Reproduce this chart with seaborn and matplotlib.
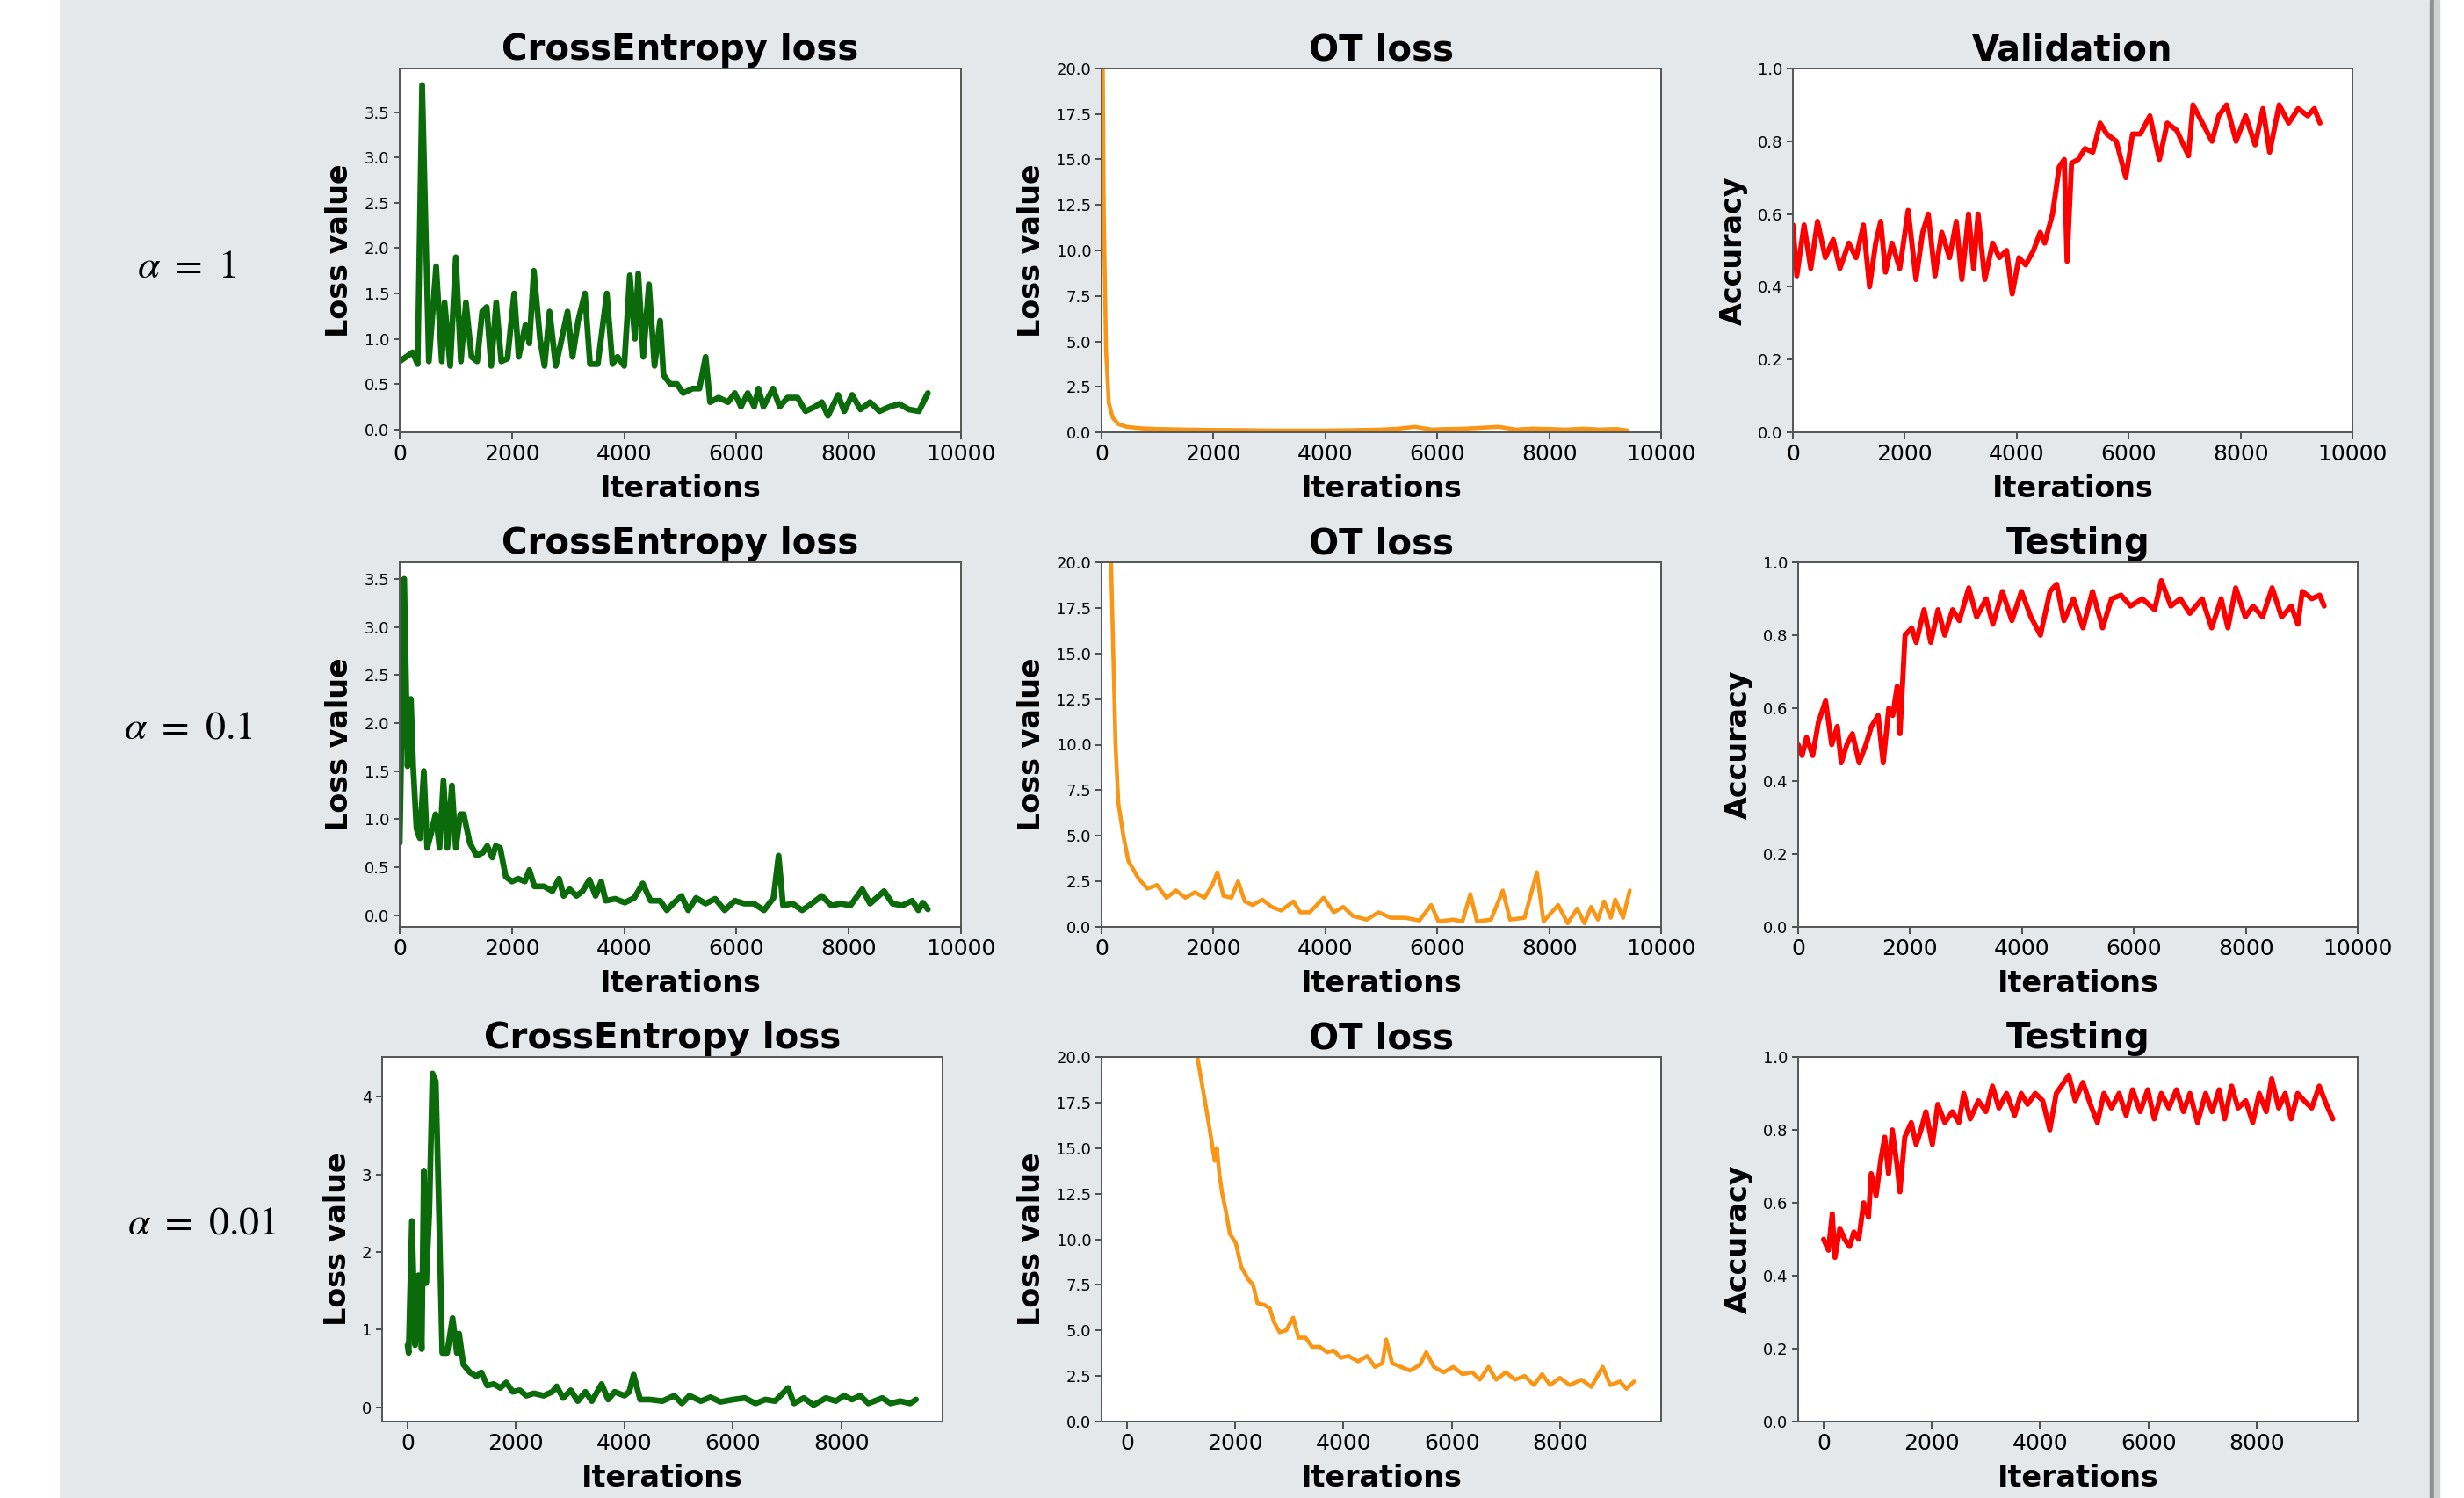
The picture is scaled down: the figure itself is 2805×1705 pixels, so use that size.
import numpy as np
import pandas as pd
import matplotlib
matplotlib.use('Agg')
import matplotlib.pyplot as plt
import seaborn as sns
from matplotlib.patches import Rectangle

sns.set_theme(style='ticks')
plt.rcParams['font.family'] = ['DejaVu Sans']
plt.rcParams['mathtext.fontset'] = 'stix'
plt.rcParams['text.color'] = 'black'
plt.rcParams['axes.labelcolor'] = 'black'
plt.rcParams['xtick.color'] = 'black'
plt.rcParams['ytick.color'] = 'black'

# (iteration, value) pairs, one list per panel
ce_1 = [(0, 0.75), (115, 0.8), (230, 0.85), (320, 0.72), (400, 3.8), (520, 0.75), (650, 1.8),
        (750, 0.75), (800, 1.4), (900, 0.7), (1000, 1.9), (1090, 0.75), (1180, 1.4), (1280, 0.8),
        (1380, 0.75), (1470, 1.3), (1550, 1.35), (1630, 0.7), (1720, 1.4), (1810, 0.75), (1920, 0.78),
        (2040, 1.5), (2120, 0.8), (2240, 1.15), (2310, 0.95), (2390, 1.75), (2500, 1.0), (2580, 0.7),
        (2670, 1.3), (2780, 0.7), (2870, 0.95), (2990, 1.3), (3080, 0.8), (3180, 1.2), (3300, 1.5),
        (3390, 0.72), (3530, 0.72), (3690, 1.5), (3790, 0.72), (3880, 0.8), (4000, 0.7), (4100, 1.7),
        (4190, 1.0), (4250, 1.72), (4340, 0.8), (4440, 1.6), (4540, 0.7), (4640, 1.2), (4700, 0.6),
        (4820, 0.5), (4940, 0.5), (5050, 0.4), (5220, 0.45), (5340, 0.45), (5450, 0.8), (5530, 0.3),
        (5680, 0.35), (5850, 0.3), (5970, 0.4), (6080, 0.25), (6200, 0.4), (6315, 0.25), (6390, 0.45),
        (6480, 0.25), (6650, 0.45), (6770, 0.25), (6910, 0.35), (7090, 0.35), (7230, 0.2), (7400, 0.25),
        (7520, 0.3), (7630, 0.15), (7810, 0.38), (7920, 0.2), (8060, 0.38), (8210, 0.22), (8380, 0.3),
        (8550, 0.2), (8730, 0.25), (8900, 0.28), (9070, 0.22), (9250, 0.2), (9410, 0.4)]
ot_1 = [(0, 30), (40, 12), (80, 4.5), (130, 1.6), (200, 0.8), (300, 0.45), (450, 0.3), (700, 0.22),
        (1000, 0.18), (1500, 0.15), (2000, 0.13), (2500, 0.12), (3000, 0.1), (3500, 0.1), (4000, 0.1),
        (4500, 0.12), (5000, 0.15), (5300, 0.2), (5600, 0.3), (5900, 0.15), (6200, 0.18), (6500, 0.2),
        (6800, 0.25), (7100, 0.3), (7400, 0.15), (7700, 0.2), (8000, 0.18), (8300, 0.15), (8600, 0.2),
        (8900, 0.15), (9200, 0.18), (9400, 0.1)]
val_1 = [(0, 0.57), (70, 0.43), (200, 0.57), (320, 0.45), (440, 0.58), (580, 0.48), (720, 0.53),
         (840, 0.45), (1000, 0.52), (1130, 0.48), (1260, 0.57), (1370, 0.4), (1480, 0.52), (1570, 0.58),
         (1655, 0.44), (1770, 0.52), (1910, 0.45), (2060, 0.61), (2200, 0.42), (2320, 0.55), (2420, 0.6),
         (2540, 0.43), (2660, 0.55), (2800, 0.48), (2920, 0.58), (3020, 0.42), (3140, 0.6), (3230, 0.45),
         (3310, 0.6), (3430, 0.42), (3570, 0.52), (3690, 0.48), (3820, 0.5), (3920, 0.38), (4040, 0.48),
         (4160, 0.46), (4300, 0.5), (4420, 0.55), (4500, 0.52), (4640, 0.6), (4760, 0.73), (4850, 0.75),
         (4900, 0.47), (4980, 0.74), (5100, 0.75), (5220, 0.78), (5360, 0.77), (5490, 0.85), (5610, 0.82),
         (5780, 0.8), (5950, 0.7), (6070, 0.82), (6210, 0.82), (6380, 0.87), (6550, 0.75), (6690, 0.85),
         (6860, 0.83), (7070, 0.76), (7150, 0.9), (7320, 0.85), (7490, 0.8), (7610, 0.87), (7750, 0.9),
         (7920, 0.8), (8090, 0.87), (8260, 0.79), (8400, 0.89), (8520, 0.77), (8690, 0.9), (8860, 0.85),
         (9030, 0.89), (9200, 0.87), (9320, 0.89), (9420, 0.85)]

ce_2 = [(0, 0.75), (80, 3.5), (140, 1.55), (200, 2.25), (240, 1.55), (300, 0.9), (360, 0.8), (430, 1.5),
        (490, 0.7), (560, 0.85), (640, 1.05), (710, 0.7), (780, 1.4), (850, 0.7), (930, 1.35), (1000, 0.7),
        (1080, 1.05), (1140, 1.05), (1250, 0.75), (1370, 0.62), (1480, 0.65), (1560, 0.72), (1650, 0.6),
        (1710, 0.72), (1790, 0.7), (1890, 0.4), (2000, 0.35), (2110, 0.38), (2230, 0.35), (2310, 0.47),
        (2400, 0.3), (2570, 0.3), (2720, 0.25), (2840, 0.38), (2920, 0.2), (3030, 0.27), (3150, 0.2),
        (3260, 0.25), (3380, 0.37), (3490, 0.2), (3590, 0.35), (3670, 0.15), (3840, 0.17), (4010, 0.13),
        (4180, 0.18), (4330, 0.33), (4470, 0.15), (4640, 0.15), (4760, 0.05), (4870, 0.12), (5020, 0.2),
        (5140, 0.05), (5280, 0.18), (5450, 0.12), (5620, 0.17), (5790, 0.05), (5970, 0.15), (6140, 0.12),
        (6310, 0.12), (6490, 0.05), (6660, 0.18), (6750, 0.62), (6830, 0.1), (7000, 0.12), (7170, 0.05),
        (7340, 0.12), (7520, 0.2), (7690, 0.1), (7860, 0.12), (8030, 0.1), (8240, 0.27), (8380, 0.12),
        (8630, 0.25), (8780, 0.12), (8950, 0.1), (9130, 0.15), (9240, 0.05), (9320, 0.13), (9410, 0.06)]
ot_2 = [(0, 60), (170, 20), (250, 10), (300, 6.8), (390, 5.0), (480, 3.6), (560, 3.2), (650, 2.7),
        (820, 2.1), (990, 2.3), (1160, 1.6), (1330, 2.0), (1500, 1.6), (1670, 1.9), (1840, 1.6),
        (1980, 2.3), (2070, 3.0), (2180, 1.7), (2320, 1.6), (2440, 2.5), (2560, 1.4), (2700, 1.2),
        (2870, 1.5), (3040, 1.1), (3210, 0.9), (3430, 1.4), (3550, 0.8), (3720, 0.8), (3970, 1.6),
        (4150, 0.8), (4320, 1.1), (4490, 0.6), (4740, 0.4), (4950, 0.8), (5170, 0.5), (5430, 0.5),
        (5680, 0.35), (5890, 1.2), (6020, 0.3), (6280, 0.4), (6450, 0.3), (6590, 1.8), (6710, 0.3),
        (6960, 0.4), (7170, 2.0), (7300, 0.4), (7560, 0.5), (7780, 3.0), (7900, 0.3), (8160, 1.2),
        (8330, 0.2), (8500, 1.0), (8630, 0.2), (8750, 1.1), (8870, 0.4), (8980, 1.4), (9100, 0.5),
        (9180, 1.5), (9320, 0.5), (9440, 2.0)]
test_2 = [(0, 0.5), (70, 0.47), (150, 0.52), (260, 0.47), (360, 0.56), (490, 0.62), (600, 0.5),
          (700, 0.55), (770, 0.45), (870, 0.5), (970, 0.53), (1090, 0.45), (1210, 0.5), (1310, 0.55),
          (1430, 0.58), (1520, 0.45), (1620, 0.6), (1690, 0.58), (1770, 0.66), (1820, 0.53), (1910, 0.8),
          (2030, 0.82), (2110, 0.78), (2250, 0.87), (2370, 0.78), (2500, 0.87), (2620, 0.8), (2760, 0.87),
          (2880, 0.84), (3050, 0.93), (3190, 0.85), (3360, 0.9), (3480, 0.83), (3650, 0.92), (3820, 0.84),
          (3990, 0.92), (4160, 0.85), (4330, 0.8), (4500, 0.92), (4620, 0.94), (4750, 0.84), (4920, 0.9),
          (5090, 0.82), (5260, 0.92), (5440, 0.82), (5600, 0.9), (5770, 0.91), (5940, 0.88), (6150, 0.9),
          (6370, 0.87), (6490, 0.95), (6660, 0.88), (6830, 0.9), (7000, 0.86), (7220, 0.9), (7390, 0.82),
          (7560, 0.9), (7680, 0.82), (7820, 0.93), (7990, 0.85), (8130, 0.88), (8300, 0.85), (8470, 0.93),
          (8640, 0.85), (8810, 0.88), (8930, 0.83), (9010, 0.92), (9180, 0.9), (9320, 0.91), (9400, 0.88)]

ce_3 = [(0, 0.8), (20, 0.7), (80, 2.4), (140, 0.8), (200, 1.7), (260, 0.75), (300, 3.05), (340, 1.6),
        (400, 2.5), (460, 4.3), (520, 4.2), (580, 2.5), (640, 0.7), (730, 0.7), (830, 1.15), (910, 0.7),
        (950, 0.95), (1030, 0.55), (1150, 0.45), (1270, 0.4), (1360, 0.45), (1470, 0.28), (1590, 0.3),
        (1710, 0.25), (1820, 0.32), (1940, 0.2), (2070, 0.22), (2190, 0.15), (2330, 0.18), (2510, 0.15),
        (2670, 0.2), (2750, 0.27), (2870, 0.12), (3010, 0.22), (3140, 0.08), (3280, 0.2), (3400, 0.08),
        (3580, 0.3), (3700, 0.1), (3820, 0.2), (4000, 0.15), (4090, 0.2), (4170, 0.42), (4290, 0.1),
        (4470, 0.1), (4700, 0.08), (4920, 0.15), (5060, 0.05), (5200, 0.15), (5410, 0.08), (5590, 0.13),
        (5770, 0.07), (6010, 0.1), (6220, 0.12), (6420, 0.05), (6600, 0.1), (6780, 0.08), (7020, 0.25),
        (7130, 0.05), (7310, 0.12), (7490, 0.03), (7720, 0.12), (7900, 0.08), (8050, 0.15), (8200, 0.1),
        (8350, 0.15), (8500, 0.05), (8760, 0.12), (8910, 0.05), (9090, 0.08), (9270, 0.05), (9380, 0.1)]
ot_3 = [(1100, 24), (1300, 20), (1445, 17.5), (1530, 16), (1620, 14.3), (1660, 15), (1710, 13.5),
        (1760, 12.5), (1830, 11.5), (1900, 10.3), (2010, 9.8), (2110, 8.5), (2240, 7.8), (2330, 7.5),
        (2410, 6.5), (2540, 6.4), (2640, 6.2), (2710, 5.5), (2820, 4.9), (2940, 5.0), (3070, 5.7),
        (3170, 4.6), (3300, 4.6), (3420, 4.1), (3560, 4.1), (3700, 3.8), (3820, 3.9), (3950, 3.5),
        (4090, 3.6), (4270, 3.3), (4440, 3.6), (4580, 3.0), (4720, 3.2), (4790, 4.5), (4900, 3.2),
        (5060, 3.0), (5230, 2.8), (5410, 3.1), (5530, 3.8), (5670, 3.0), (5850, 2.7), (6030, 3.0),
        (6200, 2.6), (6380, 2.7), (6520, 2.3), (6680, 3.0), (6820, 2.3), (7000, 2.7), (7170, 2.3),
        (7350, 2.5), (7520, 2.0), (7670, 2.6), (7820, 2.0), (8000, 2.4), (8180, 2.0), (8400, 2.3),
        (8580, 1.9), (8790, 3.0), (8930, 2.0), (9110, 2.2), (9230, 1.8), (9370, 2.2)]
test_3 = [(0, 0.5), (90, 0.47), (160, 0.57), (210, 0.45), (300, 0.53), (390, 0.5), (480, 0.48),
          (560, 0.52), (650, 0.5), (740, 0.6), (830, 0.56), (880, 0.68), (970, 0.62), (1060, 0.72),
          (1130, 0.78), (1200, 0.68), (1270, 0.8), (1360, 0.7), (1410, 0.63), (1500, 0.78), (1620, 0.82),
          (1710, 0.76), (1800, 0.8), (1890, 0.85), (2010, 0.76), (2110, 0.87), (2240, 0.82), (2380, 0.85),
          (2500, 0.82), (2590, 0.9), (2710, 0.83), (2860, 0.88), (3000, 0.85), (3120, 0.92), (3240, 0.86),
          (3380, 0.9), (3530, 0.84), (3650, 0.9), (3770, 0.87), (3910, 0.9), (4050, 0.88), (4180, 0.8),
          (4300, 0.9), (4440, 0.93), (4530, 0.95), (4650, 0.88), (4790, 0.93), (4930, 0.87), (5060, 0.82),
          (5180, 0.9), (5320, 0.86), (5460, 0.9), (5590, 0.84), (5710, 0.91), (5850, 0.85), (5990, 0.91),
          (6110, 0.83), (6240, 0.9), (6380, 0.86), (6520, 0.91), (6650, 0.85), (6770, 0.9), (6910, 0.82),
          (7060, 0.9), (7180, 0.85), (7310, 0.91), (7410, 0.83), (7540, 0.92), (7660, 0.86), (7800, 0.88),
          (7930, 0.82), (8050, 0.9), (8180, 0.85), (8280, 0.94), (8410, 0.86), (8530, 0.9), (8640, 0.83),
          (8760, 0.9), (8880, 0.88), (9020, 0.86), (9160, 0.92), (9290, 0.87), (9410, 0.83)]

row_labels = [r'$\alpha\ =\ 1$', r'$\alpha\ =\ 0.1$', r'$\alpha\ =\ 0.01$']
titles = [['CrossEntropy loss', 'OT loss', 'Validation'],
          ['CrossEntropy loss', 'OT loss', 'Testing'],
          ['CrossEntropy loss', 'OT loss', 'Testing']]
ylabels = ['Loss value', 'Loss value', 'Accuracy']
series = [[ce_1, ot_1, val_1], [ce_2, ot_2, test_2], [ce_3, ot_3, test_3]]
colors = ['#0b6b0b', '#fa9616', '#ff0000']
widths = [4.8, 3.3, 4.2]

W, H = 2805, 1705
fig = plt.figure(figsize=(W / 100, H / 100), dpi=100, facecolor='#e4e8eb')

# white margins left / right and the dark edge line of the pasted panel
fig.patches.append(Rectangle((0, 0), 67 / W, 1, transform=fig.transFigure, color='white', zorder=-5))
fig.patches.append(Rectangle((2772 / W, 0), 1, 1, transform=fig.transFigure, color='white', zorder=-5))
fig.patches.append(Rectangle((2766 / W, 0), 5 / W, 1, transform=fig.transFigure, color='#8e9092', zorder=-4))
fig.patches.append(Rectangle((2771 / W, 0), 6 / W, 1, transform=fig.transFigure, color='#d0d1d2', zorder=-4))

# axes boxes in pixels: (left, right) per column and (top, bottom) per row
col_px = [[(455, 1094), (1254, 1891), (2041, 2678)],
          [(455, 1094), (1254, 1891), (2047, 2684)],
          [(435, 1073), (1254, 1891), (2047, 2684)]]
row_px = [(78, 492), (640, 1055), (1203, 1618)]
label_px = [(156, 304), (141, 828), (145, 1392)]

for r in range(3):
    top, bot = row_px[r]
    for c in range(3):
        left, right = col_px[r][c]
        ax = fig.add_axes([left / W, 1 - bot / H, (right - left) / W, (bot - top) / H])
        ax.set_facecolor('white')
        d = pd.DataFrame(series[r][c], columns=['it', 'v'])
        sns.lineplot(data=d, x='it', y='v', ax=ax, color=colors[c], linewidth=widths[c],
                     estimator=None, sort=False)
        ax.set_title(titles[r][c], fontsize=29, fontweight='bold', pad=7)
        ax.set_xlabel('Iterations', fontsize=24, fontweight='bold', labelpad=8)
        ax.set_ylabel(ylabels[c], fontsize=24, fontweight='bold', labelpad=8)
        if r < 2:
            ax.set_xlim(0, 10000)
        else:
            ax.set_xlim(-470, 9870)
            ax.set_xticks([0, 2000, 4000, 6000, 8000])
        if c == 1:
            ax.set_ylim(0, 20)
            ax.set_yticks(np.arange(0, 20.1, 2.5))
        elif c == 2:
            ax.set_ylim(0, 1)
            ax.set_yticks(np.arange(0, 1.01, 0.2))
        ax.tick_params(axis='x', labelsize=18, length=6, width=1.2, color='#333333')
        ax.tick_params(axis='y', labelsize=13, length=5, width=1.2, color='#333333')
        for s in ax.spines.values():
            s.set_color('#555555')
            s.set_linewidth(1.4)
    fig.text(label_px[r][0] / W, 1 - label_px[r][1] / H, row_labels[r], fontsize=33,
             ha='left', va='center', color='black')

fig.savefig('out.png', dpi=100, facecolor=fig.get_facecolor())
